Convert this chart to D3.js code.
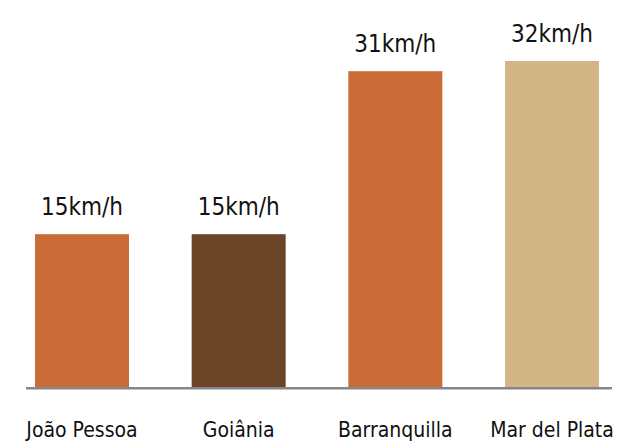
<!DOCTYPE html>
<html>
<head>
<meta charset="utf-8">
<script src="https://cdn.jsdelivr.net/npm/d3@7/dist/d3.min.js"></script>
<style>
  html, body { margin: 0; padding: 0; background: #fff; }
  svg { display: block; }
  text { font-family: "DejaVu Sans Condensed", "Liberation Sans Narrow", sans-serif; font-stretch: condensed; fill: #111; }
</style>
</head>
<body>
<svg id="chart" width="618" height="441"></svg>
<script>
// Average wind speed by city
const cities = ["João Pessoa", "Goiânia", "Barranquilla", "Mar del Plata"];
const speeds = [15, 15, 31, 32];
const unit = "km/h";
const barColors = ["#C96C38", "#6C4529", "#C96C38", "#D2B686"];

const svg = d3.select("#chart");
const baseY = 387;

const x = d3.scaleBand()
  .domain(cities)
  .range([35, 599])
  .paddingInner(0.4)
  .paddingOuter(0);

const y = d3.scaleLinear()
  .domain([0, 32])
  .range([baseY, 61]);

// bars
svg.selectAll("rect.bar")
  .data(cities)
  .join("rect")
  .attr("class", "bar")
  .attr("x", d => x(d))
  .attr("width", x.bandwidth())
  .attr("y", (d, i) => y(speeds[i]))
  .attr("height", (d, i) => baseY - y(speeds[i]))
  .attr("fill", (d, i) => barColors[i]);

// baseline
svg.append("line")
  .attr("x1", x.range()[0] - 9)
  .attr("x2", x.range()[1] + 13)
  .attr("y1", baseY + 1.3)
  .attr("y2", baseY + 1.3)
  .attr("stroke", "#86868a")
  .attr("stroke-width", 2.6);

// value labels
svg.selectAll("text.value")
  .data(cities)
  .join("text")
  .attr("class", "value")
  .attr("x", d => x(d) + x.bandwidth() / 2)
  .attr("y", (d, i) => y(speeds[i]) - 19)
  .attr("text-anchor", "middle")
  .style("font-size", "24px")
  .text((d, i) => speeds[i] + unit);

// category axis labels
const xAxis = d3.axisBottom(x).tickSize(0).tickPadding(0);
const gx = svg.append("g")
  .attr("transform", `translate(0, 437)`)
  .call(xAxis);
gx.select(".domain").remove();
gx.selectAll("text")
  .attr("dy", "0")
  .style("font-size", "21px")
  .style("font-family", "\"DejaVu Sans Condensed\", \"Liberation Sans Narrow\", sans-serif")
  .attr("fill", "#111");
</script>
</body>
</html>
